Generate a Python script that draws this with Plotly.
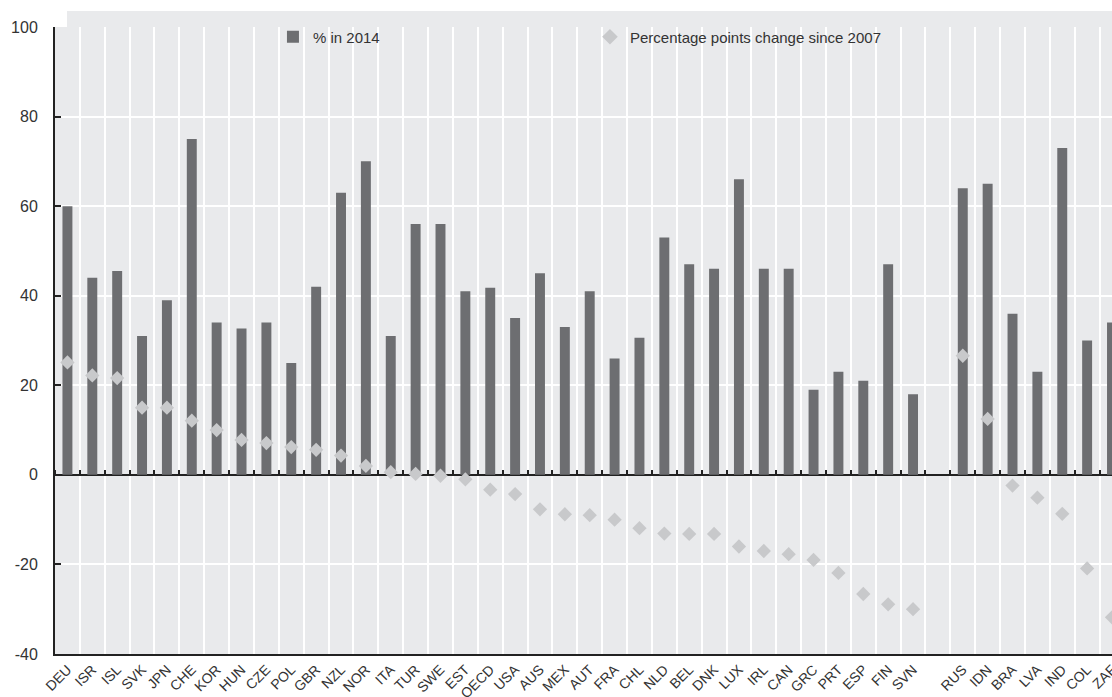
import plotly.graph_objects as go

# Countries in display order; a blank slot separates OECD members from partner economies
countries = ["DEU", "ISR", "ISL", "SVK", "JPN", "CHE", "KOR", "HUN", "CZE", "POL",
             "GBR", "NZL", "NOR", "ITA", "TUR", "SWE", "EST", "OECD", "USA", "AUS",
             "MEX", "AUT", "FRA", "CHL", "NLD", "BEL", "DNK", "LUX", "IRL", "CAN",
             "GRC", "PRT", "ESP", "FIN", "SVN", " ", "RUS", "IDN", "BRA", "LVA",
             "IND", "COL", "ZAF"]

share_2014 = [60, 44, 45.5, 31, 39, 75, 34, 32.7, 34, 25,
              42, 63, 70, 31, 56, 56, 41, 41.8, 35, 45,
              33, 41, 26, 30.6, 53, 47, 46, 66, 46, 46,
              19, 23, 21, 47, 18, None, 64, 65, 36, 23,
              73, 30, 34]

change_since_2007 = [25.1, 22.2, 21.6, 15.0, 15.0, 12.1, 10.0, 7.8, 7.1, 6.2,
                     5.6, 4.3, 2.0, 0.6, 0.2, -0.2, -1.0, -3.3, -4.3, -7.7,
                     -8.8, -9.0, -10.0, -11.9, -13.1, -13.2, -13.2, -16.0, -17.0, -17.7,
                     -19.0, -21.9, -26.6, -28.9, -30.0, None, 26.6, 12.5, -2.4, -5.1,
                     -8.7, -20.9, -31.8]

y_ticks = [-40, -20, 0, 20, 40, 60, 80, 100]
y_tick_text = ["-40", "-20", "0", "20", "40", "60", "80", "100"]

BAR = "#6d6e71"
DIAMOND = "#c8c9cb"
PANEL = "#e9eaec"
INK = "#222222"
TEXT = "#333333"
FONT = "Liberation Sans, Arial, sans-serif"

fig = go.Figure()

fig.add_trace(go.Bar(
    x=countries, y=share_2014, name="% in 2014",
    marker=dict(color=BAR, line=dict(width=0)), width=0.4,
))
fig.add_trace(go.Scatter(
    x=countries, y=change_since_2007, name="Percentage points change since 2007",
    mode="markers", marker=dict(symbol="diamond", size=11, color=DIAMOND),
))
# invisible carrier trace for the tick row along the zero line
fig.add_trace(go.Scatter(
    x=countries, y=[0] * len(countries), xaxis="x2", mode="markers",
    marker=dict(opacity=0), showlegend=False, hoverinfo="skip",
))

fig.update_layout(
    width=1112, height=697,
    margin=dict(l=55, r=0, t=27, b=43, autoexpand=False),
    paper_bgcolor="white", plot_bgcolor=PANEL,
    font=dict(family=FONT, color=TEXT),
    bargap=0.6,
    showlegend=True,
    legend=dict(
        orientation="h", x=0.2062, y=0.984, xanchor="left", yanchor="middle",
        bgcolor="rgba(0,0,0,0)", font=dict(family=FONT, size=15, color=TEXT),
        entrywidth=272, entrywidthmode="pixels", itemsizing="constant",
        itemwidth=30,
    ),
    xaxis=dict(
        type="category", categoryorder="array", categoryarray=countries,
        range=[-0.5, 42], tickson="boundaries", automargin=False,
        showgrid=True, gridcolor="white", gridwidth=2,
        showline=True, linecolor=INK, linewidth=2,
        ticks="", tickangle=-45,
        tickfont=dict(family=FONT, size=14, color=TEXT),
        zeroline=False,
    ),
    xaxis2=dict(
        type="category", categoryorder="array", categoryarray=countries,
        overlaying="x", matches="x", anchor="free", position=40 / 140, side="top",
        tickson="boundaries", ticks="outside", ticklen=5, tickwidth=1.5, tickcolor=INK,
        showticklabels=False, showgrid=False, showline=False, zeroline=False,
        automargin=False,
    ),
    yaxis=dict(
        range=[-40, 100], tickmode="array", tickvals=y_ticks, ticktext=y_tick_text,
        automargin=False,
        showgrid=True, gridcolor="white", gridwidth=2,
        showline=True, linecolor=INK, linewidth=2,
        ticks="inside", ticklen=6, tickwidth=1.5, tickcolor=INK,
        ticklabelstandoff=12,
        tickfont=dict(family=FONT, size=16, color=TEXT),
        zeroline=True, zerolinecolor=INK, zerolinewidth=2,
    ),
    shapes=[dict(
        type="rect", xref="paper", yref="paper",
        x0=12 / 1057, x1=1.0, y0=(654 - 62) / 627, y1=(654 - 11) / 627,
        fillcolor=PANEL, line=dict(width=0), layer="between",
    )],
)

fig.write_html("out.html")
